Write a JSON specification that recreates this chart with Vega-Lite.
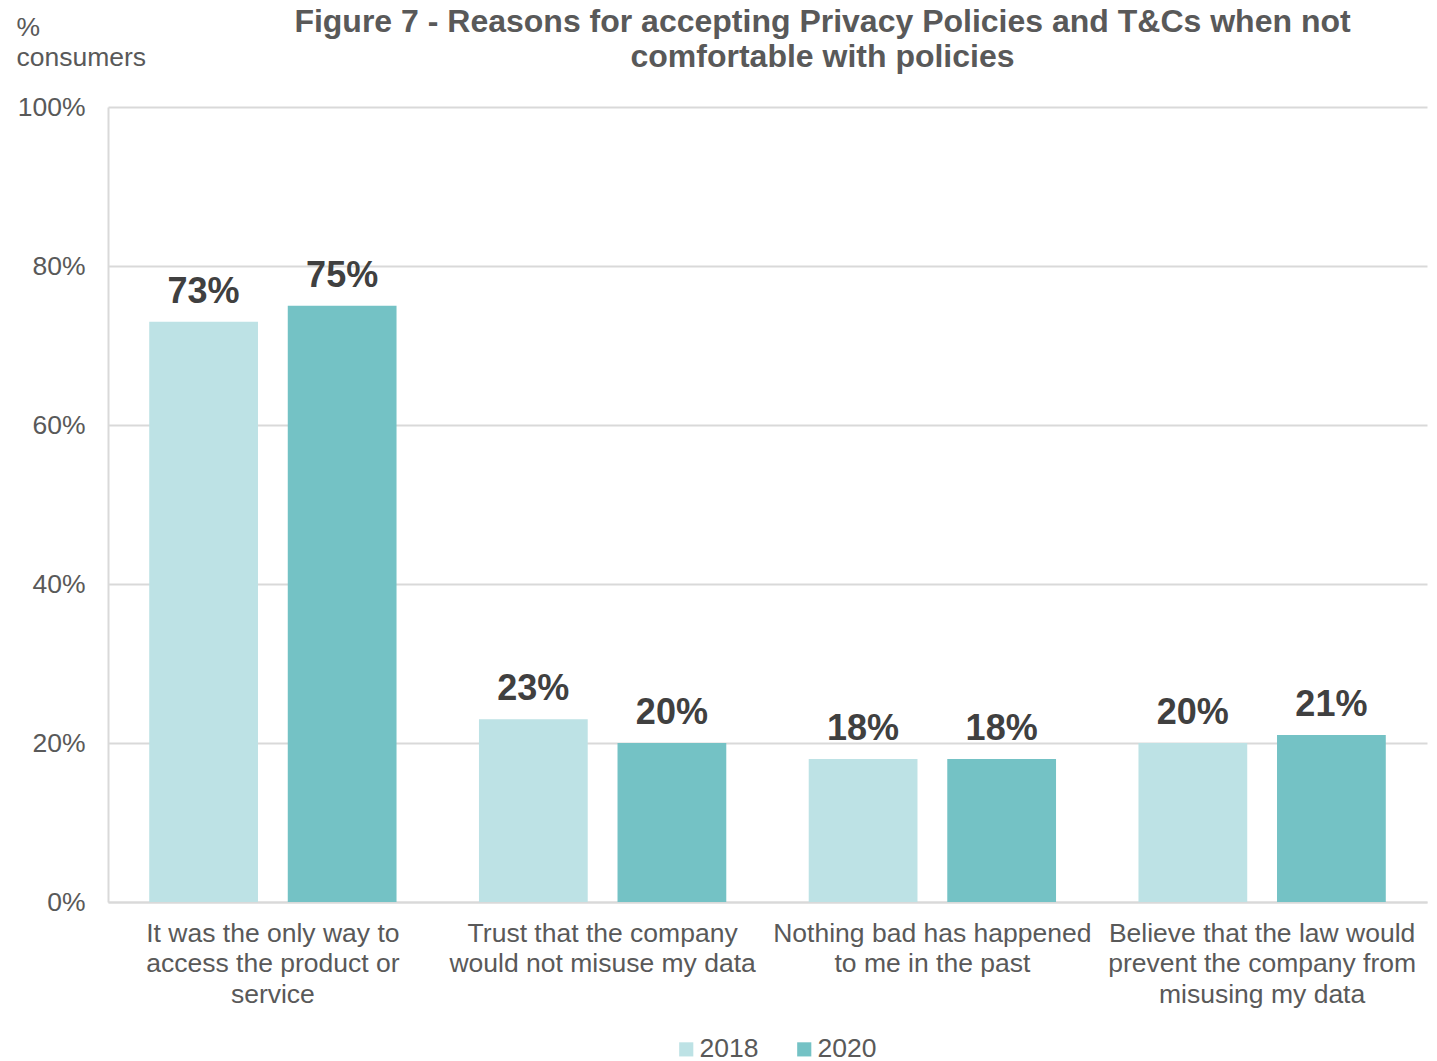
{
  "$schema": "https://vega.github.io/schema/vega-lite/v6.json",
  "width": 1319,
  "height": 795,
  "autosize": {"type": "none"},
  "padding": {"left": 108, "top": 107, "right": 10, "bottom": 159},
  "background": "#ffffff",
  "config": {
    "font": "Liberation Sans",
    "view": {"stroke": null},
    "axis": {"labelFont": "Liberation Sans", "titleFont": "Liberation Sans"}
  },
  "title": {
    "text": ["Figure 7 - Reasons for accepting Privacy Policies and T&Cs when not", "comfortable with policies"],
    "font": "Liberation Sans",
    "fontSize": 32,
    "fontWeight": "bold",
    "color": "#595959",
    "anchor": "middle",
    "frame": "group",
    "dx": 55,
    "lineHeight": 35,
    "offset": -60
  },
  "data": {
    "values": [
      {"reason": "It was the only way to access the product or service", "year": "2018", "share": 0.73},
      {"reason": "It was the only way to access the product or service", "year": "2020", "share": 0.75},
      {"reason": "Trust that the company would not misuse my data", "year": "2018", "share": 0.23},
      {"reason": "Trust that the company would not misuse my data", "year": "2020", "share": 0.20},
      {"reason": "Nothing bad has happened to me in the past", "year": "2018", "share": 0.18},
      {"reason": "Nothing bad has happened to me in the past", "year": "2020", "share": 0.18},
      {"reason": "Believe that the law would prevent the company from misusing my data", "year": "2018", "share": 0.20},
      {"reason": "Believe that the law would prevent the company from misusing my data", "year": "2020", "share": 0.21}
    ]
  },
  "encoding": {
    "x": {
      "field": "reason",
      "type": "nominal",
      "sort": null,
      "scale": {"paddingInner": 0.25, "paddingOuter": 0.125},
      "axis": {
        "title": null,
        "labelAngle": 0,
        "labelFontSize": 26.5,
        "labelColor": "#595959",
        "labelBaseline": "top",
        "labelPadding": 18,
        "labelLineHeight": 30.5,
        "labelLimit": 400,
        "ticks": false,
        "domainColor": "#d9d9d9",
        "domainWidth": 2,
        "labelExpr": "datum.value == 'It was the only way to access the product or service' ? ['It was the only way to', 'access the product or', 'service'] : datum.value == 'Trust that the company would not misuse my data' ? ['Trust that the company', 'would not misuse my data'] : datum.value == 'Nothing bad has happened to me in the past' ? ['Nothing bad has happened', 'to me in the past'] : ['Believe that the law would', 'prevent the company from', 'misusing my data']"
      }
    },
    "xOffset": {
      "field": "year",
      "type": "nominal",
      "scale": {"paddingInner": 0.215, "paddingOuter": 0}
    },
    "y": {
      "field": "share",
      "type": "quantitative",
      "scale": {"domain": [0, 1]},
      "axis": {
        "title": ["%", "consumers"],
        "titleAngle": 0,
        "titleAlign": "left",
        "titleBaseline": "alphabetic",
        "titleX": -92,
        "titleY": -72,
        "titleFontSize": 26.5,
        "titleFontWeight": "normal",
        "titleColor": "#595959",
        "titleLineHeight": 30,
        "format": ".0%",
        "values": [0, 0.2, 0.4, 0.6, 0.8, 1],
        "labelFontSize": 26.5,
        "labelColor": "#595959",
        "labelPadding": 23,
        "ticks": false,
        "domainColor": "#d9d9d9",
        "domainWidth": 2,
        "gridColor": "#d9d9d9",
        "gridWidth": 2
      }
    }
  },
  "layer": [
    {
      "mark": {"type": "bar"},
      "encoding": {
        "color": {
          "field": "year",
          "type": "nominal",
          "scale": {"domain": ["2018", "2020"], "range": ["#bde2e5", "#74c2c5"]},
          "legend": {
            "title": null,
            "orient": "none",
            "direction": "horizontal",
            "legendX": 565,
            "legendY": 929,
            "symbolType": "square",
            "symbolSize": 200,
            "symbolStrokeWidth": 0,
            "labelFontSize": 26.5,
            "labelColor": "#595959",
            "labelFont": "Liberation Sans",
            "labelOffset": 0,
            "columnPadding": 32
          }
        }
      }
    },
    {
      "mark": {
        "type": "text",
        "baseline": "alphabetic",
        "dy": -19,
        "fontSize": 36,
        "fontWeight": "bold",
        "color": "#404040"
      },
      "encoding": {
        "text": {"field": "share", "type": "quantitative", "format": ".0%"}
      }
    }
  ]
}
